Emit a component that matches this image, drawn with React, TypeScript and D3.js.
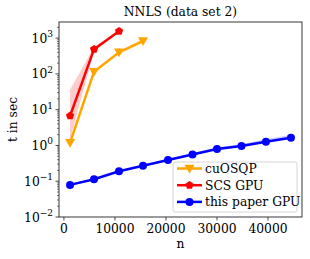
import React from 'react'
import * as d3 from 'd3'

// problem sizes (n) and timings
const nVals = [1200, 5900, 10800, 15500, 20400, 25200, 30000, 34800, 39600, 44500]
const cuosqp = [1.19, 115, 400, 830]
const cuosqpLo = [1.1, 108, 380, 800]
const cuosqpHi = [1.3, 122, 420, 860]
const scsGpu = [6.7, 490, 1560]
const scsLo = [1.5, 420, 1500]
const scsHi = [36, 560, 1650]
const paperGpu = [0.079, 0.114, 0.19, 0.27, 0.39, 0.56, 0.79, 0.96, 1.27, 1.63]
const paperLo = [0.075, 0.108, 0.18, 0.26, 0.37, 0.53, 0.75, 0.92, 1.2, 1.55]
const paperHi = [0.083, 0.12, 0.2, 0.29, 0.42, 0.62, 0.88, 1.1, 1.5, 2.0]
const xTicks = [0, 10000, 20000, 30000, 40000]
const yExps = [-2, -1, 0, 1, 2, 3]
const legendNames = ['cuOSQP', 'SCS GPU', 'this paper GPU']

const W = 310, H = 259
const M = { top: 22, right: 8, bottom: 42, left: 59 }
const FS = 12.3
const TXT = { fontFamily: '"DejaVu Serif"', fontSize: FS }

export default function App() {
    const x = d3.scaleLinear().domain([-965, 46665]).range([M.left, W - M.right])
    const y = d3.scaleLog().domain([0.01, 10 ** 3.45]).range([H - M.bottom, M.top])

    const series = [
        { name: legendNames[0], vals: cuosqp, lo: cuosqpLo, hi: cuosqpHi, color: 'orange', marker: 'v' },
        { name: legendNames[1], vals: scsGpu, lo: scsLo, hi: scsHi, color: 'red', marker: 'p' },
        { name: legendNames[2], vals: paperGpu, lo: paperLo, hi: paperHi, color: 'blue', marker: 'o' },
    ]

    const line = d3.line<number>()
        .x((d, i) => x(nVals[i]))
        .y(d => y(d))

    const band = (lo: number[], hi: number[]) => d3.area<number>()
        .x((d, i) => x(nVals[i]))
        .y0((d, i) => y(lo[i]))
        .y1((d, i) => y(hi[i]))(lo)

    const markerPath = (m: string, cx: number, cy: number) => {
        if (m === 'v') {
            const r = 5
            return `M${cx - r},${cy - r * 0.75}L${cx + r},${cy - r * 0.75}L${cx},${cy + r}Z`
        }
        const r = 4.3
        const pts = d3.range(5).map(k => {
            const a = -Math.PI / 2 + k * 2 * Math.PI / 5
            return [cx + r * Math.cos(a), cy + r * Math.sin(a)]
        })
        return 'M' + pts.map(p => p.join(',')).join('L') + 'Z'
    }

    const minor: number[] = []
    yExps.slice(0, -1).forEach(e => {
        for (let k = 2; k < 10; k++) minor.push(k * 10 ** e)
    })
    for (let k = 2; k < 10 && k * 1000 <= 10 ** 3.45; k++) minor.push(k * 1000)

    const [y0, y1] = y.range()
    const [x0, x1] = x.range()

    return (
        <svg width={W} height={H} style={{ position: 'fixed', left: 0, top: 0 }}>
            <rect width={W} height={H} fill="white" />
            <text x={(x0 + x1) / 2} y={16} textAnchor="middle" style={TXT}>NNLS (data set 2)</text>

            {series.map(s => (
                <path key={s.name + 'b'} d={band(s.lo, s.hi) as string} fill={s.color} fillOpacity={0.2} />
            ))}
            {series.map(s => (
                <g key={s.name}>
                    <path d={line(s.vals) as string} fill="none" stroke={s.color} strokeWidth={2.5} />
                    {s.vals.map((v, i) => (
                        s.marker === 'o'
                            ? <circle key={i} cx={x(nVals[i])} cy={y(v)} r={4} fill={s.color} />
                            : <path key={i} d={markerPath(s.marker, x(nVals[i]), y(v))} fill={s.color} />
                    ))}
                </g>
            ))}

            <rect x={x0} y={y1} width={x1 - x0} height={y0 - y1} fill="none" stroke="#222" strokeWidth={0.9} />

            {/* x axis */}
            {xTicks.map(t => (
                <g key={t} transform={`translate(${x(t)},${y0})`}>
                    <line y2={3.5} stroke="#222" strokeWidth={0.8} />
                    <text y={16} textAnchor="middle" style={TXT}>{t}</text>
                </g>
            ))}
            <text x={(x0 + x1) / 2} y={248} textAnchor="middle" style={TXT}>n</text>

            {/* y axis */}
            {minor.map(v => (
                <line key={v} x1={x0} x2={x0 - 2} y1={y(v)} y2={y(v)} stroke="#222" strokeWidth={0.6} />
            ))}
            {yExps.map(e => (
                <g key={e} transform={`translate(${x0},${y(10 ** e)})`}>
                    <line x2={-3.5} stroke="#222" strokeWidth={0.8} />
                    <text x={-6} y={4.5} textAnchor="end" style={TXT}>
                        10<tspan dy={-5.5} style={{ fontSize: 9 }}>{e < 0 ? '\u2212' + (-e) : e}</tspan>
                    </text>
                </g>
            ))}
            <text transform={`translate(17,${(y0 + y1) / 2}) rotate(-90)`} textAnchor="middle" style={TXT}>t in sec</text>

            {/* legend */}
            <g transform="translate(173,162)">
                <rect width={124} height={50} rx={2} fill="white" fillOpacity={0.8} stroke="#ccc" strokeWidth={0.8} />
                {series.map((s, i) => (
                    <g key={s.name} transform={`translate(0,${6.5 + i * 16.7})`}>
                        <line x1={4} x2={29} stroke={s.color} strokeWidth={2.5} />
                        {s.marker === 'o'
                            ? <circle cx={16.5} r={4} fill={s.color} />
                            : <path d={markerPath(s.marker, 16.5, 0)} fill={s.color} />}
                        <text x={32} y={4.5} style={TXT}>{s.name}</text>
                    </g>
                ))}
            </g>
        </svg>
    )
}
